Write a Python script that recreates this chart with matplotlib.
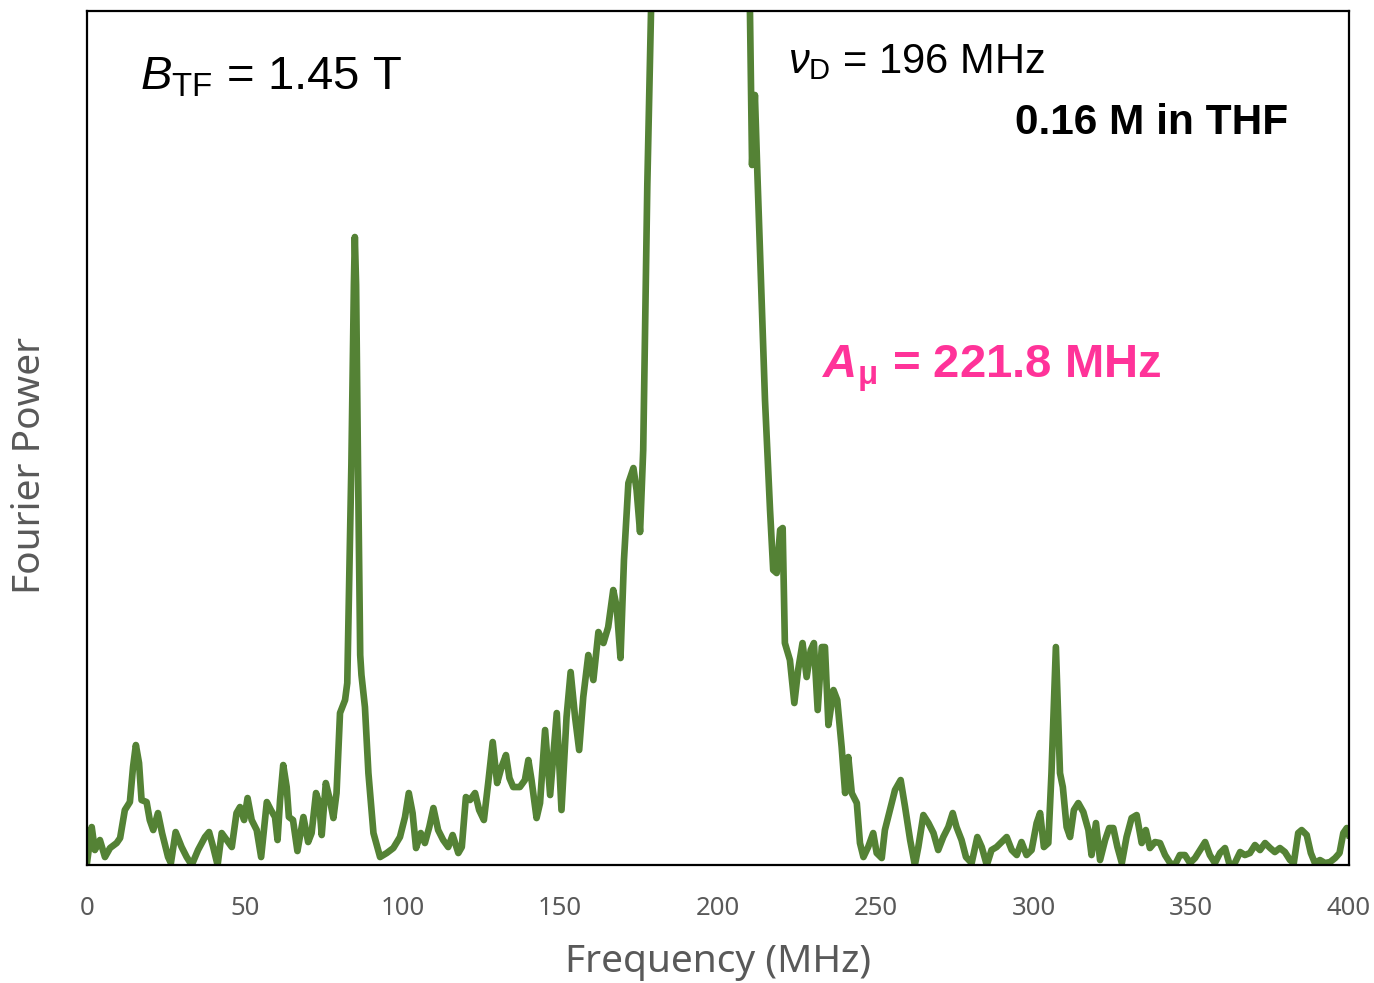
import numpy as np
import matplotlib.pyplot as plt

plt.rcParams['mathtext.fontset'] = 'custom'
plt.rcParams['mathtext.rm'] = 'Liberation Sans'
plt.rcParams['mathtext.it'] = 'Liberation Sans:italic'
plt.rcParams['mathtext.bf'] = 'Liberation Sans:bold'
plt.rcParams['mathtext.bfit'] = 'Liberation Sans:italic:bold'

# --- data (frequency in MHz, power in a.u.) ---
freq = [
    0.0, 1.5, 2.5, 4.1, 5.7, 7.3, 9.4, 10.5, 12.0, 13.6, 14.6, 15.5, 16.5, 17.3,
    18.9, 19.9, 21.0, 22.5, 23.8, 25.7, 26.6, 28.1, 30.0, 31.6, 33.2, 35.2, 37.4,
    38.7, 40.0, 41.4, 42.7, 44.3, 45.9, 47.4, 48.5, 49.8, 50.9, 52.2, 53.8, 55.2,
    57.0, 58.3, 59.6, 60.4, 61.2, 62.2, 63.3, 64.0, 65.3, 66.7, 68.6, 70.1, 71.2,
    72.6, 73.6, 74.4, 75.7, 77.0, 78.1, 79.1, 80.2, 81.8, 82.5, 83.8, 84.6, 84.9,
    85.3, 85.9, 86.6, 87.0, 88.1, 89.2, 90.8, 92.9, 95.0, 97.1, 99.2, 100.8, 102.0,
    103.2, 104.3, 105.8, 107.1, 108.5, 109.8, 111.3, 112.9, 114.5, 115.9, 117.7,
    118.8, 120.1, 121.4, 123.0, 124.3, 125.8, 127.2, 128.6, 130.0, 131.4, 132.8,
    133.9, 135.1, 137.2, 138.8, 139.9, 140.9, 142.5, 143.6, 145.2, 146.8, 148.9,
    150.4, 152.0, 153.3, 154.7, 156.0, 157.3, 158.9, 160.5, 162.1, 163.7, 165.2,
    166.8, 167.9, 169.1, 170.2, 171.6, 173.2, 174.2, 175.3, 176.3, 177.6, 178.8,
    180.0, 185.0, 195.0, 205.0, 209.5, 210.8, 211.7, 212.5, 213.3, 214.9, 216.5,
    217.5, 218.6, 219.7, 220.5, 221.2, 222.8, 224.2, 225.4, 226.8, 228.1, 229.4,
    230.4, 231.6, 232.9, 233.9, 235.0, 236.6, 237.8, 239.2, 240.3, 241.3, 242.4,
    244.0, 245.0, 246.1, 247.6, 249.2, 250.3, 251.9, 252.9, 254.5, 256.1, 257.9,
    259.3, 260.9, 262.4, 263.5, 265.1, 266.7, 268.3, 269.8, 271.4, 273.0, 274.4,
    275.6, 277.2, 278.6, 280.4, 282.2, 283.6, 285.2, 286.7, 288.3, 289.9, 291.5,
    293.1, 294.7, 296.2, 297.8, 299.4, 301.0, 302.1, 303.3, 304.7, 305.7, 307.1,
    308.4, 309.3, 310.5, 311.6, 312.8, 314.2, 315.8, 317.4, 318.4, 319.8, 321.1,
    322.7, 324.0, 325.3, 326.6, 328.0, 329.5, 331.1, 332.7, 334.3, 335.6, 336.9,
    338.5, 340.1, 341.7, 343.3, 344.8, 346.4, 348.0, 349.6, 351.2, 352.8, 354.4,
    355.9, 357.5, 359.1, 360.7, 362.0, 363.5, 365.5, 367.0, 368.6, 370.2, 371.8,
    373.4, 375.0, 376.5, 378.1, 379.7, 381.3, 382.5, 383.9, 385.0, 386.6, 387.9,
    389.2, 390.8, 392.4, 394.0, 395.6, 397.0, 398.2, 399.3, 400.0,
]
power = [
    0.2, 3.8, 1.5, 2.5, 0.8, 1.7, 2.2, 2.7, 5.5, 6.3, 9.8, 12.0, 10.2, 6.5,
    6.3, 4.5, 3.5, 5.2, 3.2, 0.8, 0.2, 3.3, 1.8, 0.8, 0.0, 1.5, 2.8,
    3.3, 1.8, 0.0, 3.2, 2.5, 1.8, 5.2, 5.8, 4.5, 6.7, 4.5, 3.5, 0.8,
    6.3, 5.5, 4.8, 2.5, 6.5, 10.0, 7.8, 4.8, 4.5, 1.4, 4.8, 2.3, 3.2,
    7.2, 6.2, 3.0, 8.2, 6.5, 4.7, 7.2, 15.2, 16.5, 18.2, 40.0, 58.0, 62.8,
    58.0, 40.0, 21.0, 19.0, 15.8, 9.2, 3.2, 0.8, 1.2, 1.7, 2.8, 4.8, 7.2,
    5.2, 1.7, 3.2, 2.2, 3.8, 5.7, 3.5, 2.5, 1.8, 3.0, 1.2,
    1.8, 6.8, 6.5, 7.2, 5.5, 4.5, 8.3, 12.3, 8.2, 9.8, 11.0,
    8.7, 7.8, 7.8, 8.5, 10.5, 8.5, 4.7, 6.2, 13.5, 7.0, 15.2,
    5.5, 14.8, 19.3, 14.8, 11.5, 16.8, 21.0, 18.5, 23.3, 22.2, 23.8,
    27.5, 25.8, 20.7, 30.5, 38.2, 39.7, 37.5, 33.3, 41.5, 68.0, 85.4,
    110.0, 200.0, 260.0, 200.0, 100.0, 70.0, 77.0, 69.0, 61.5, 46.5, 35.5,
    29.5, 29.2, 33.5, 33.7, 22.2, 20.5, 16.2, 19.5, 22.2, 18.8, 21.5,
    22.2, 15.5, 21.8, 21.8, 14.0, 17.5, 16.5, 11.8, 7.2, 10.8, 7.2,
    6.2, 2.2, 0.8, 1.8, 3.2, 1.2, 0.7, 3.5, 5.5, 7.5, 8.5,
    5.8, 2.5, 0.0, 1.8, 5.0, 4.2, 3.2, 1.5, 2.8, 3.8, 5.2,
    3.8, 2.5, 0.8, 0.2, 2.8, 1.8, 0.0, 1.5, 1.8, 2.3, 2.8,
    1.5, 1.0, 2.3, 1.0, 1.5, 4.2, 5.2, 1.8, 2.2, 9.2, 21.8,
    9.2, 7.8, 3.8, 2.8, 5.5, 6.2, 5.3, 3.5, 1.0, 4.2, 0.5,
    2.5, 3.7, 3.7, 1.8, 0.2, 2.8, 4.7, 5.0, 2.2, 3.5, 1.7,
    2.3, 2.2, 1.0, 0.2, 0.0, 1.0, 1.0, 0.2, 0.7, 1.5, 2.3,
    1.0, 0.2, 1.2, 1.7, 0.2, 0.0, 1.3, 1.0, 1.2, 2.0, 1.5,
    2.2, 1.7, 1.3, 1.7, 1.3, 0.5, 0.2, 3.2, 3.5, 3.0, 1.2,
    0.2, 0.5, 0.2, 0.3, 0.7, 1.2, 3.2, 3.7, 3.0,
]
xticks = [0, 50, 100, 150, 200, 250, 300, 350, 400]

GREEN = '#548235'
GRAY = '#595959'
PINK = '#FF3399'

fig = plt.figure(figsize=(13.74, 9.83), dpi=100)
ax = fig.add_axes([0.0633, 0.1200, 0.9185, 0.8688])

ax.plot(freq, power, color=GREEN, lw=4.8, solid_joinstyle='round')

ax.set_xlim(0, 400)
ax.set_ylim(0, 85.4)
ax.set_xticks(xticks)
ax.set_yticks([])
ax.tick_params(axis='x', length=0, pad=22, labelsize=18.5, labelcolor=GRAY)
for lab in ax.get_xticklabels():
    lab.set_family('Noto Sans')
for sp in ax.spines.values():
    sp.set_linewidth(1.6)
    sp.set_color('black')

ax.set_xlabel('Frequency (MHz)', fontsize=28, color=GRAY, family='Noto Sans')
ax.xaxis.set_label_coords(0.5, -0.114)
ax.xaxis.label.set_va('center')
ax.set_ylabel('Fourier Power', fontsize=28, color=GRAY, family='Noto Sans')
ax.yaxis.set_label_coords(-0.045, 0.468)
ax.yaxis.label.set_va('center')

# annotations
ax.text(0.042, 0.922, r'$B_{\rm TF}$ = 1.45 T', transform=ax.transAxes,
        fontsize=34, family='Liberation Sans', va='center', ha='left')
ax.text(0.5555, 0.940, r'$\nu_{\rm D}$ = 196 MHz', transform=ax.transAxes,
        fontsize=30, family='Liberation Sans', va='center', ha='left')
ax.text(0.9517, 0.869, '0.16 M in THF', transform=ax.transAxes,
        fontsize=30.5, family='Liberation Sans', weight='bold',
        va='center', ha='right')
ax.text(0.5824, 0.581, r'$\mathbfit{A}_{\mathbf{\mu}}$ = 221.8 MHz',
        transform=ax.transAxes, fontsize=34, family='Liberation Sans',
        weight='bold', color=PINK, va='center', ha='left')

fig.savefig('out.png', dpi=100)
